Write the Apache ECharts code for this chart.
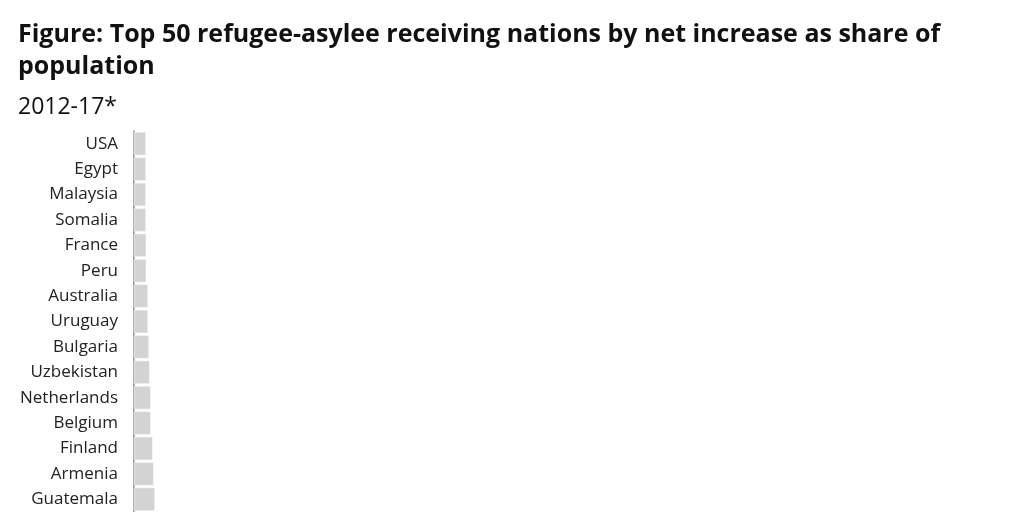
<!DOCTYPE html>
<html>
<head>
<meta charset="utf-8">
<script src="https://cdn.jsdelivr.net/npm/echarts@6/dist/echarts.min.js"></script>
<style>
  html, body { margin: 0; padding: 0; background: #fff; overflow: hidden; }
  #main { width: 1024px; height: 512px; }
</style>
</head>
<body>
<div id="main"></div>
<script>
// visible part of the ranking (chart continues below the frame)
const countries = ['USA', 'Egypt', 'Malaysia', 'Somalia', 'France', 'Peru', 'Australia', 'Uruguay',
  'Bulgaria', 'Uzbekistan', 'Netherlands', 'Belgium', 'Finland', 'Armenia', 'Guatemala'];
// net increase as share of population, %
const shares = [0.110, 0.110, 0.110, 0.110, 0.113, 0.113, 0.129, 0.129,
  0.138, 0.144, 0.154, 0.154, 0.172, 0.181, 0.193];

const chart = echarts.init(document.getElementById('main'));

const option = {
  animation: false,
  textStyle: { fontFamily: 'Open Sans' },
  title: {
    text: 'Figure: Top 50 refugee-asylee receiving nations by net increase as share of population',
    subtext: '2012-17*',
    left: 13,
    top: 14,
    itemGap: 13,
    textStyle: {
      fontFamily: 'Open Sans',
      fontWeight: 'bold',
      fontSize: 25,
      color: '#111',
      lineHeight: 32,
      width: 980,
      overflow: 'break'
    },
    subtextStyle: {
      fontFamily: 'Open Sans',
      fontSize: 23,
      color: '#111'
    }
  },
  grid: {
    left: 134,
    right: 20,
    top: 131,
    bottom: -2,
    containLabel: false
  },
  xAxis: {
    type: 'value',
    min: 0,
    max: 8,
    show: false
  },
  yAxis: {
    type: 'category',
    data: countries,
    inverse: true,
    axisLine: { show: true, lineStyle: { color: '#888', width: 1.5 } },
    axisTick: { show: false },
    axisLabel: {
      fontFamily: 'Open Sans',
      fontSize: 17,
      color: '#222',
      margin: 16,
      padding: [4, 0, 0, 0]
    }
  },
  series: [{
    type: 'bar',
    data: shares,
    barCategoryGap: '8%',
    itemStyle: {
      color: '#d3d3d3',
      borderColor: '#fff',
      borderWidth: 0.5
    }
  }]
};

chart.setOption(option);
</script>
</body>
</html>
